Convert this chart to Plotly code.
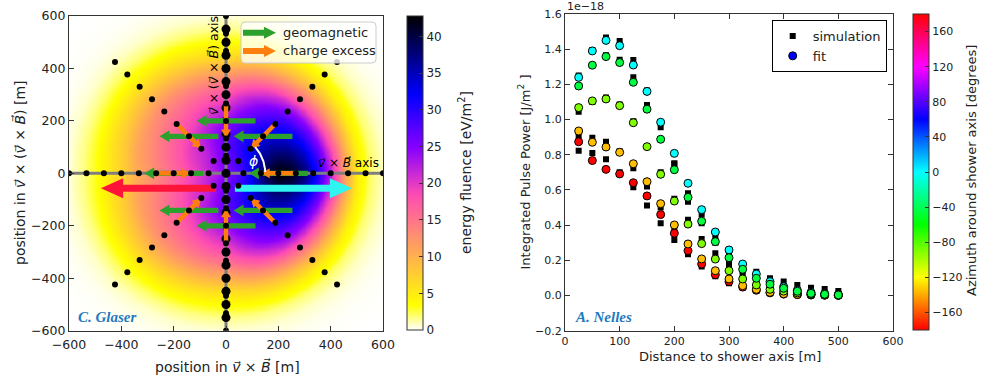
import numpy as np
import plotly.graph_objects as go

W, H = 984, 378

# ---------------- LEFT PANEL DATA ----------------
# energy fluence [eV/m^2] as a function of radius, read along five azimuths
fluence_radius_m = [0, 50, 100, 150, 200, 250, 300, 350, 400, 450, 500, 550, 600, 650, 700, 800, 900]
fluence_azimuths_deg = [0, 45, 90, 135, 180]
fluence_at_0deg = [25, 28, 33, 40, 43, 42, 38, 31, 22, 12, 5.0, 2.0, 0.8, 0.3, 0.1, 0, 0]
fluence_at_45deg = [25, 28, 31, 33, 33, 31, 28, 23, 16, 10, 5.0, 2.0, 0.8, 0.3, 0.1, 0, 0]
fluence_at_90deg = [25, 26, 27, 26.5, 24, 21, 18, 14, 10, 6, 3.5, 1.5, 0.5, 0.2, 0.05, 0, 0]
fluence_at_135deg = [25, 24, 22, 21, 19, 17, 15, 13, 10, 7, 4.0, 2.0, 0.8, 0.3, 0.1, 0, 0]
fluence_at_180deg = [25, 22, 20, 18, 16, 14, 12, 10, 7, 5, 3.0, 1.5, 0.5, 0.2, 0.05, 0, 0]

# antenna layout (star pattern) and dense arm along v x (v x B)
ring_radii_m = [66.7, 133.3, 200.0, 266.7, 333.3, 400.0, 466.7, 533.3, 600.0]
arm_azimuths_deg = [0, 45, 90, 135, 180, 225, 270, 315]
dense_arm_y_m = [-550, -500, -450, -400, -350, -300, -250, -200, -150, -100, -50, 0,
                 50, 100, 150, 200, 250, 300, 350, 400, 450, 500, 550]

# polarisation vectors drawn at the r = 200 m ring
vector_ring_radius_m = 200.0
geomagnetic_length_m = 225.0
charge_excess_length_m = 130.0

# total-field arrows (negative / positive v x B side)
total_arrow_tail_x = [-38, 34]
total_arrow_tip_x = [-478, 482]
total_arrow_y = [-57, -57]
total_arrow_colors = ["#fd1438", "#2ff4f0"]

# ---------------- RIGHT PANEL DATA (units of 1e-18 J/m^2) ----------------
distance_m = [25, 50, 75, 100, 125, 150, 175, 200, 225, 250, 275, 300, 325, 350, 375, 400, 425, 450, 475, 500]
series_azimuth_deg = [0, -180, -135, -90, -45]
fit_az0 = [1.24, 1.39, 1.45, 1.42, 1.31, 1.16, 0.985, 0.808, 0.638, 0.488, 0.361, 0.259, 0.179, 0.122, 0.079, 0.050, 0.030, 0.018, 0.010, 0.005]
sim_az0 = [1.25, 1.395, 1.466, 1.447, 1.339, 1.165, 0.956, 0.751, 0.581, 0.46, 0.334, 0.24, 0.17, 0.135, 0.098, 0.079, 0.060, 0.044, 0.037, 0.026]
fit_azm180 = [0.874, 0.767, 0.717, 0.691, 0.641, 0.566, 0.460, 0.354, 0.255, 0.179, 0.118, 0.079, 0.048, 0.030, 0.015, 0.008, 0.005, 0.003, 0.002, 0.001]
sim_azm180 = [0.823, 0.810, 0.774, 0.70, 0.615, 0.511, 0.41, 0.316, 0.234, 0.165, 0.11, 0.07, 0.045, 0.028, 0.015, 0.008, 0.005, 0.003, 0.002, 0.001]
fit_azm135 = [0.935, 0.871, 0.844, 0.814, 0.749, 0.647, 0.522, 0.401, 0.293, 0.208, 0.141, 0.094, 0.056, 0.035, 0.018, 0.010, 0.006, 0.004, 0.002, 0.001]
sim_azm135 = [0.908, 0.897, 0.874, 0.82, 0.723, 0.619, 0.50, 0.38, 0.27, 0.19, 0.13, 0.085, 0.05, 0.03, 0.017, 0.01, 0.006, 0.004, 0.002, 0.001]
fit_azm90 = [1.068, 1.106, 1.117, 1.079, 0.982, 0.846, 0.689, 0.537, 0.406, 0.295, 0.207, 0.141, 0.094, 0.060, 0.035, 0.025, 0.015, 0.008, 0.005, 0.002]
sim_azm90 = [1.045, 1.10, 1.125, 1.085, 0.99, 0.85, 0.70, 0.55, 0.43, 0.321, 0.24, 0.165, 0.11, 0.07, 0.045, 0.03, 0.02, 0.012, 0.008, 0.005]
fit_azm45 = [1.191, 1.309, 1.358, 1.324, 1.212, 1.059, 0.888, 0.715, 0.558, 0.422, 0.306, 0.215, 0.149, 0.098, 0.064, 0.041, 0.024, 0.012, 0.007, 0.003]
sim_azm45 = [1.19, 1.31, 1.365, 1.34, 1.24, 1.083, 0.89, 0.75, 0.533, 0.41, 0.30, 0.183, 0.14, 0.09, 0.06, 0.04, 0.03, 0.02, 0.015, 0.01]
fit_series = [fit_az0, fit_azm180, fit_azm135, fit_azm90, fit_azm45]
sim_series = [sim_az0, sim_azm180, sim_azm135, sim_azm90, sim_azm45]

# ---------------- styling helpers ----------------
FONT = "DejaVu Sans"
DARK = "#222222"


def gnuplot2(x):
    r = min(max(x / 0.32 - 0.78125, 0), 1)
    g = min(max(2 * x - 0.84, 0), 1)
    if x < 0.25:
        b = 4 * x
    elif x < 0.92:
        b = -2 * x + 1.84
    else:
        b = x / 0.08 - 11.5
    b = min(max(b, 0), 1)
    return "rgb(%d,%d,%d)" % (round(r * 255), round(g * 255), round(b * 255))


fluence_colorscale = [[v, gnuplot2(1 - v)] for v in np.linspace(0, 1, 51)]
hsv_colorscale = [[0, "#ff0000"], [1 / 6, "#ffff00"], [1 / 3, "#00ff00"], [0.5, "#00ffff"],
                  [2 / 3, "#0000ff"], [5 / 6, "#ff00ff"], [1, "#ff0000"]]


def arrow_poly(x0, y0, x1, y1, shaft_w, head_w, head_l):
    dx, dy = x1 - x0, y1 - y0
    L = np.hypot(dx, dy)
    ux, uy = dx / L, dy / L
    nx, ny = -uy, ux
    bx, by = x1 - ux * head_l, y1 - uy * head_l
    pts = [(x0 + nx * shaft_w / 2, y0 + ny * shaft_w / 2),
           (bx + nx * shaft_w / 2, by + ny * shaft_w / 2),
           (bx + nx * head_w / 2, by + ny * head_w / 2),
           (x1, y1),
           (bx - nx * head_w / 2, by - ny * head_w / 2),
           (bx - nx * shaft_w / 2, by - ny * shaft_w / 2),
           (x0 - nx * shaft_w / 2, y0 - ny * shaft_w / 2),
           (x0 + nx * shaft_w / 2, y0 + ny * shaft_w / 2)]
    return [p[0] for p in pts], [p[1] for p in pts]


def px2paper(x, y):
    return x / W, 1 - y / H


fig = go.Figure()

# ---------------- LEFT PANEL ----------------
grid = np.linspace(-600, 600, 121)
GX, GY = np.meshgrid(grid, grid)
R = np.hypot(GX, GY)
AZ = np.degrees(np.abs(np.arctan2(GY, GX)))
profiles = [fluence_at_0deg, fluence_at_45deg, fluence_at_90deg, fluence_at_135deg, fluence_at_180deg]
per_az = np.array([np.interp(R, fluence_radius_m, p) for p in profiles])
step = fluence_azimuths_deg[1] - fluence_azimuths_deg[0]
pos = AZ / step
i0 = np.clip(np.floor(pos).astype(int), 0, len(profiles) - 2)
w = pos - i0
Z = (1 - w) * np.take_along_axis(per_az, i0[None], 0)[0] + w * np.take_along_axis(per_az, (i0 + 1)[None], 0)[0]

fig.add_trace(go.Heatmap(
    x=grid, y=grid, z=Z, zmin=0, zmax=42.8, zsmooth="best",
    colorscale=fluence_colorscale, xaxis="x", yaxis="y", hoverinfo="skip",
    colorbar=dict(x=407 / W, xanchor="left", xpad=0, ypad=0, y=1 - 16 / H, yanchor="top",
                  len=314, lenmode="pixels", thickness=16, thicknessmode="pixels",
                  tickvals=list(range(0, 45, 5)), ticks="inside", ticklen=4, tickcolor="#333",
                  outlinewidth=1, outlinecolor="#333",
                  tickfont=dict(family=FONT, size=12, color=DARK)),
))

# axis lines through the centre
fig.add_trace(go.Scatter(x=[-600, 600, None, 0, 0], y=[0, 0, None, -600, 600], mode="lines",
                         line=dict(color="#7f7f7f", width=3), xaxis="x", yaxis="y",
                         showlegend=False, hoverinfo="skip"))

# dense arm (big dots)
fig.add_trace(go.Scatter(x=[0] * len(dense_arm_y_m), y=dense_arm_y_m, mode="markers",
                         marker=dict(color="black", size=9), xaxis="x", yaxis="y",
                         showlegend=False, hoverinfo="skip"))

# geomagnetic and charge-excess arrows
for az in arm_azimuths_deg:
    c, s = np.cos(np.radians(az)), np.sin(np.radians(az))
    cx, cy = vector_ring_radius_m * c, vector_ring_radius_m * s
    xs, ys = arrow_poly(cx + geomagnetic_length_m / 2, cy, cx - geomagnetic_length_m / 2, cy, 20, 45, 38)
    fig.add_trace(go.Scatter(x=xs, y=ys, fill="toself", fillcolor="#2ca02c", mode="lines",
                             line=dict(width=0, color="#2ca02c"), xaxis="x", yaxis="y",
                             showlegend=False, hoverinfo="skip"))
for az in arm_azimuths_deg:
    c, s = np.cos(np.radians(az)), np.sin(np.radians(az))
    cx, cy = vector_ring_radius_m * c, vector_ring_radius_m * s
    h = charge_excess_length_m / 2
    xs, ys = arrow_poly(cx + h * c, cy + h * s, cx - h * c, cy - h * s, 17, 38, 32)
    fig.add_trace(go.Scatter(x=xs, y=ys, fill="toself", fillcolor="#ff7f0e", mode="lines",
                             line=dict(width=0, color="#ff7f0e"), xaxis="x", yaxis="y",
                             showlegend=False, hoverinfo="skip"))

# total field arrows
for x0, x1, yy, col in zip(total_arrow_tail_x, total_arrow_tip_x, total_arrow_y, total_arrow_colors):
    xs, ys = arrow_poly(x0, yy, x1, yy, 27, 76, 85)
    fig.add_trace(go.Scatter(x=xs, y=ys, fill="toself", fillcolor=col, mode="lines",
                             line=dict(width=0, color=col), xaxis="x", yaxis="y",
                             showlegend=False, hoverinfo="skip"))

# star-pattern antennas (small dots)
ant_x, ant_y = [], []
for az in arm_azimuths_deg:
    for r in ring_radii_m:
        ant_x.append(r * np.cos(np.radians(az)))
        ant_y.append(r * np.sin(np.radians(az)))
fig.add_trace(go.Scatter(x=ant_x, y=ant_y, mode="markers", marker=dict(color="black", size=6),
                         xaxis="x", yaxis="y", showlegend=False, hoverinfo="skip"))

# phi arc
arc_radius_m = 150
arc_deg = np.linspace(42, 2, 30)
fig.add_trace(go.Scatter(x=arc_radius_m * np.cos(np.radians(arc_deg)),
                         y=arc_radius_m * np.sin(np.radians(arc_deg)), mode="lines",
                         line=dict(color="white", width=2), xaxis="x", yaxis="y",
                         showlegend=False, hoverinfo="skip"))

# ---------------- RIGHT PANEL ----------------
sim_x, sim_y, fit_x, fit_y, fit_c = [], [], [], [], []
for az, sim, fit in zip(series_azimuth_deg, sim_series, fit_series):
    sim_x += distance_m
    sim_y += sim
for az, sim, fit in zip(series_azimuth_deg, sim_series, fit_series):
    fit_x += distance_m
    fit_y += fit
    fit_c += [az] * len(distance_m)

fig.add_trace(go.Scatter(x=sim_x, y=sim_y, mode="markers", name="simulation",
                         marker=dict(symbol="square", color="black", size=6),
                         xaxis="x2", yaxis="y2", showlegend=True, hoverinfo="skip"))
fig.add_trace(go.Scatter(x=fit_x, y=fit_y, mode="markers", name="fit",
                         marker=dict(color=fit_c, colorscale=hsv_colorscale, cmin=-180, cmax=180, size=8,
                                     line=dict(color="black", width=1),
                                     colorbar=dict(x=913 / W, xanchor="left", xpad=0, ypad=0,
                                                   y=1 - 14 / H, yanchor="top", len=316, lenmode="pixels",
                                                   thickness=16, thicknessmode="pixels",
                                                   tickvals=list(range(-160, 161, 40)), ticks="inside",
                                                   ticklen=4, tickcolor="#333", outlinewidth=1,
                                                   outlinecolor="#333",
                                                   tickfont=dict(family=FONT, size=11, color=DARK))),
                         xaxis="x2", yaxis="y2", showlegend=False, hoverinfo="skip"))
fig.add_trace(go.Scatter(x=[None], y=[None], mode="markers", name="fit",
                         marker=dict(color="blue", size=8, line=dict(color="black", width=1)),
                         xaxis="x2", yaxis="y2", showlegend=True))

# ---------------- layout ----------------
axis_common = dict(showline=True, linecolor="#333", linewidth=1.2, ticks="inside", ticklen=5,
                   tickwidth=1, tickcolor="#333", showgrid=False, zeroline=False, automargin=False)

annotations = []


def ann(text, x, y, size, color=DARK, angle=0, xanchor="center", yanchor="middle", ref="paper", family=FONT):
    a = dict(text=text, showarrow=False, font=dict(family=family, size=size, color=color),
             textangle=angle, xanchor=xanchor, yanchor=yanchor)
    if ref == "paper":
        a.update(xref="paper", yref="paper", x=x / W, y=1 - y / H)
    else:
        a.update(xref="x", yref="y", x=x, y=y)
    annotations.append(a)


ann("position in <i>v⃗</i> × <i>B⃗</i> [m]", 227, 366, 14)
ann("position in <i>v⃗</i> × (<i>v⃗</i> × <i>B⃗</i>) [m]", 19, 173, 14, angle=-90)
ann("energy fluence [eV/m<sup>2</sup>]", 465, 173, 14, angle=-90)
ann("Distance to shower axis [m]", 729.5, 356, 13)
ann("Integrated Pulse Power [J/m<sup>2</sup> ]", 525, 172.5, 13, angle=-90)
ann("Azimuth around shower axis [degrees]", 972, 171, 13, angle=-90)
ann("1e−18", 565, 7, 11, xanchor="left")
ann("<b><i>C. Glaser</i></b>", 76, 317, 15, color="#1f7ac0", xanchor="left", family="Liberation Serif")
ann("<b><i>A. Nelles</i></b>", 573, 317, 15, color="#1f7ac0", xanchor="left", family="Liberation Serif")
ann("<i>v⃗</i> × <i>B⃗</i> axis", 470, 41, 12, color="black", ref="data")
ann("<i>v⃗</i> × (<i>v⃗</i> × <i>B⃗</i>) axis", -50, 413, 12.5, color="black", angle=-90, ref="data")
ann("<i>ϕ</i>", 104, 47, 14, color="white", ref="data")
ann("geomagnetic", 281, 32.7, 13, xanchor="left")
ann("charge excess", 281, 51, 13, xanchor="left")

# left legend box + icons
shapes = []


def rounded_rect_path(x0, y0, x1, y1, r):
    def P(x, y):
        px_, py_ = px2paper(x, y)
        return "%f,%f" % (px_, py_)
    return ("M " + P(x0 + r, y0) + " L " + P(x1 - r, y0) + " Q " + P(x1, y0) + " " + P(x1, y0 + r) +
            " L " + P(x1, y1 - r) + " Q " + P(x1, y1) + " " + P(x1 - r, y1) +
            " L " + P(x0 + r, y1) + " Q " + P(x0, y1) + " " + P(x0, y1 - r) +
            " L " + P(x0, y0 + r) + " Q " + P(x0, y0) + " " + P(x0 + r, y0) + " Z")


shapes.append(dict(type="path", path=rounded_rect_path(241, 22, 376, 63, 4), xref="paper", yref="paper",
                   fillcolor="rgba(255,255,255,0.8)", line=dict(color="#cccccc", width=1), layer="above"))
for yy, col in [(32.7, "#2ca02c"), (51, "#ff7f0e")]:
    xs, ys = arrow_poly(243, yy, 276, yy, 6, 12, 12)
    path = "M " + " L ".join("%f,%f" % px2paper(a, b) for a, b in zip(xs, ys)) + " Z"
    shapes.append(dict(type="path", path=path, xref="paper", yref="paper", fillcolor=col,
                       line=dict(width=0), layer="above"))

fig.update_layout(
    width=W, height=H, margin=dict(l=0, r=0, t=0, b=0, autoexpand=False),
    paper_bgcolor="white", plot_bgcolor="white",
    xaxis=dict(domain=[69 / W, 383 / W], range=[-600, 600], anchor="y", mirror=True,
               tickvals=list(range(-600, 601, 200)), tickfont=dict(family=FONT, size=12.5, color=DARK),
               ticklabelstandoff=2, **axis_common),
    yaxis=dict(domain=[1 - 330.7 / H, 1 - 16 / H], range=[-600, 600], anchor="x", mirror=True,
               tickvals=list(range(-600, 601, 200)), tickfont=dict(family=FONT, size=12.5, color=DARK),
               **axis_common),
    xaxis2=dict(domain=[565 / W, 893 / W], range=[0, 600], anchor="y2", mirror="ticks",
                tickvals=list(range(0, 601, 100)), tickfont=dict(family=FONT, size=11, color=DARK),
                **axis_common),
    yaxis2=dict(domain=[1 - 330.7 / H, 1 - 14 / H], range=[-0.2, 1.6], anchor="x2", mirror="ticks",
                tickvals=[round(-0.2 + 0.2 * i, 1) for i in range(10)], tickformat=".1f",
                tickfont=dict(family=FONT, size=11, color=DARK), **axis_common),
    legend=dict(x=771.7 / W, y=1 - 20 / H, xanchor="left", yanchor="top", bordercolor="black",
                borderwidth=1, bgcolor="white", font=dict(family=FONT, size=13, color=DARK),
                tracegroupgap=0),
    annotations=annotations, shapes=shapes,
)

fig.write_html("out.html", config={"displayModeBar": False},
               post_script="document.body.style.margin='0';document.body.style.overflow='hidden';")
